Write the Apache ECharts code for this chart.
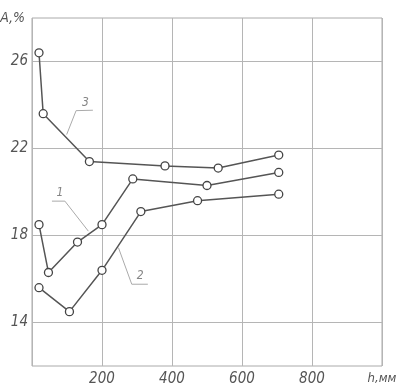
<!DOCTYPE html>
<html><head><meta charset="utf-8">
<script src="https://cdn.jsdelivr.net/npm/echarts@6/dist/echarts.min.js"></script>
<style>html,body{margin:0;padding:0;background:#fff}#c{width:396px;height:388px}</style>
</head><body><div id="c"></div>
<script>
// Curve data [h, A]
const curve1 = [[20,18.5],[47,16.3],[130,17.7],[200,18.5],[288,20.6],[500,20.3],[705,20.9]];
const curve2 = [[20,15.6],[107,14.5],[200,16.4],[311,19.1],[473,19.6],[705,19.9]];
const curve3 = [[20,26.4],[32,23.6],[164,21.4],[380,21.2],[532,21.1],[705,21.7]];
// Leader lines for curve labels (annotation)
const leader1 = [[57,19.58],[94,19.58],[161,18.2]];
const leader2 = [[331,15.76],[285,15.76],[247,17.44]];
const leader3 = [[174,23.76],[126,23.74],[99,22.64]];
const curveLabels = [{name:'1',value:[80,19.95]},{name:'2',value:[309,16.15]},{name:'3',value:[153,24.1]}];
const yTickLabels = [14,18,22,26];
const xTickLabels = [200,400,600,800];
const xName = 'h,мм';
const yName = 'A,%';

const font = "'Liberation Sans Narrow','DejaVu Sans Condensed',sans-serif";
const chart = echarts.init(document.getElementById('c'));
const lineStyle = {color:'#555', width:1.5};
const curve = d => ({type:'line', data:d, symbol:'circle', symbolSize:8,
  itemStyle:{color:'#fff', borderColor:'#444', borderWidth:1.3}, lineStyle, z:3, silent:true, animation:false});
const leader = d => ({type:'line', data:d, symbol:'none', lineStyle:{color:'#aaa', width:1}, z:2, silent:true, animation:false});
chart.setOption({
  animation:false,
  grid:{left:32, top:18, right:14, bottom:22, containLabel:false, outerBoundsMode:'none', show:true, borderColor:'#aaa', borderWidth:1},
  xAxis:{type:'value', min:0, max:1000, interval:200,
    axisLine:{show:false}, axisTick:{show:false},
    splitLine:{show:true, lineStyle:{color:'#b5b5b5', width:1}},
    axisLabel:{margin:6, fontFamily:font, fontStyle:'italic', fontSize:15, color:'#555',
      rich:{n:{fontFamily:font, fontStyle:'italic', fontSize:13, color:'#555'}},
      formatter:v => v===1000 ? '{n|' + xName + '}' : (xTickLabels.includes(v) ? String(v) : '')}},
  yAxis:{type:'value', min:12, max:28, interval:2,
    name:yName, nameLocation:'end', nameGap:0,
    nameTextStyle:{fontFamily:font, fontStyle:'italic', fontSize:14, color:'#555', align:'right', verticalAlign:'middle', padding:[0,7,0,0]},
    axisLine:{show:false}, axisTick:{show:false},
    splitLine:{show:true, lineStyle:{color:['rgba(0,0,0,0)','#b5b5b5'], width:1}},
    axisLabel:{margin:4, fontFamily:font, fontStyle:'italic', fontSize:15, color:'#555',
      formatter:v => yTickLabels.includes(v) ? String(v) : ''}},
  series:[
    leader(leader1), leader(leader2), leader(leader3),
    curve(curve3), curve(curve1), curve(curve2),
    {type:'scatter', data:curveLabels, symbolSize:0, silent:true,
      label:{show:true, formatter:p=>p.name, position:'inside', fontFamily:font, fontStyle:'italic', fontSize:12, color:'#666'}}
  ]
});
</script></body></html>
